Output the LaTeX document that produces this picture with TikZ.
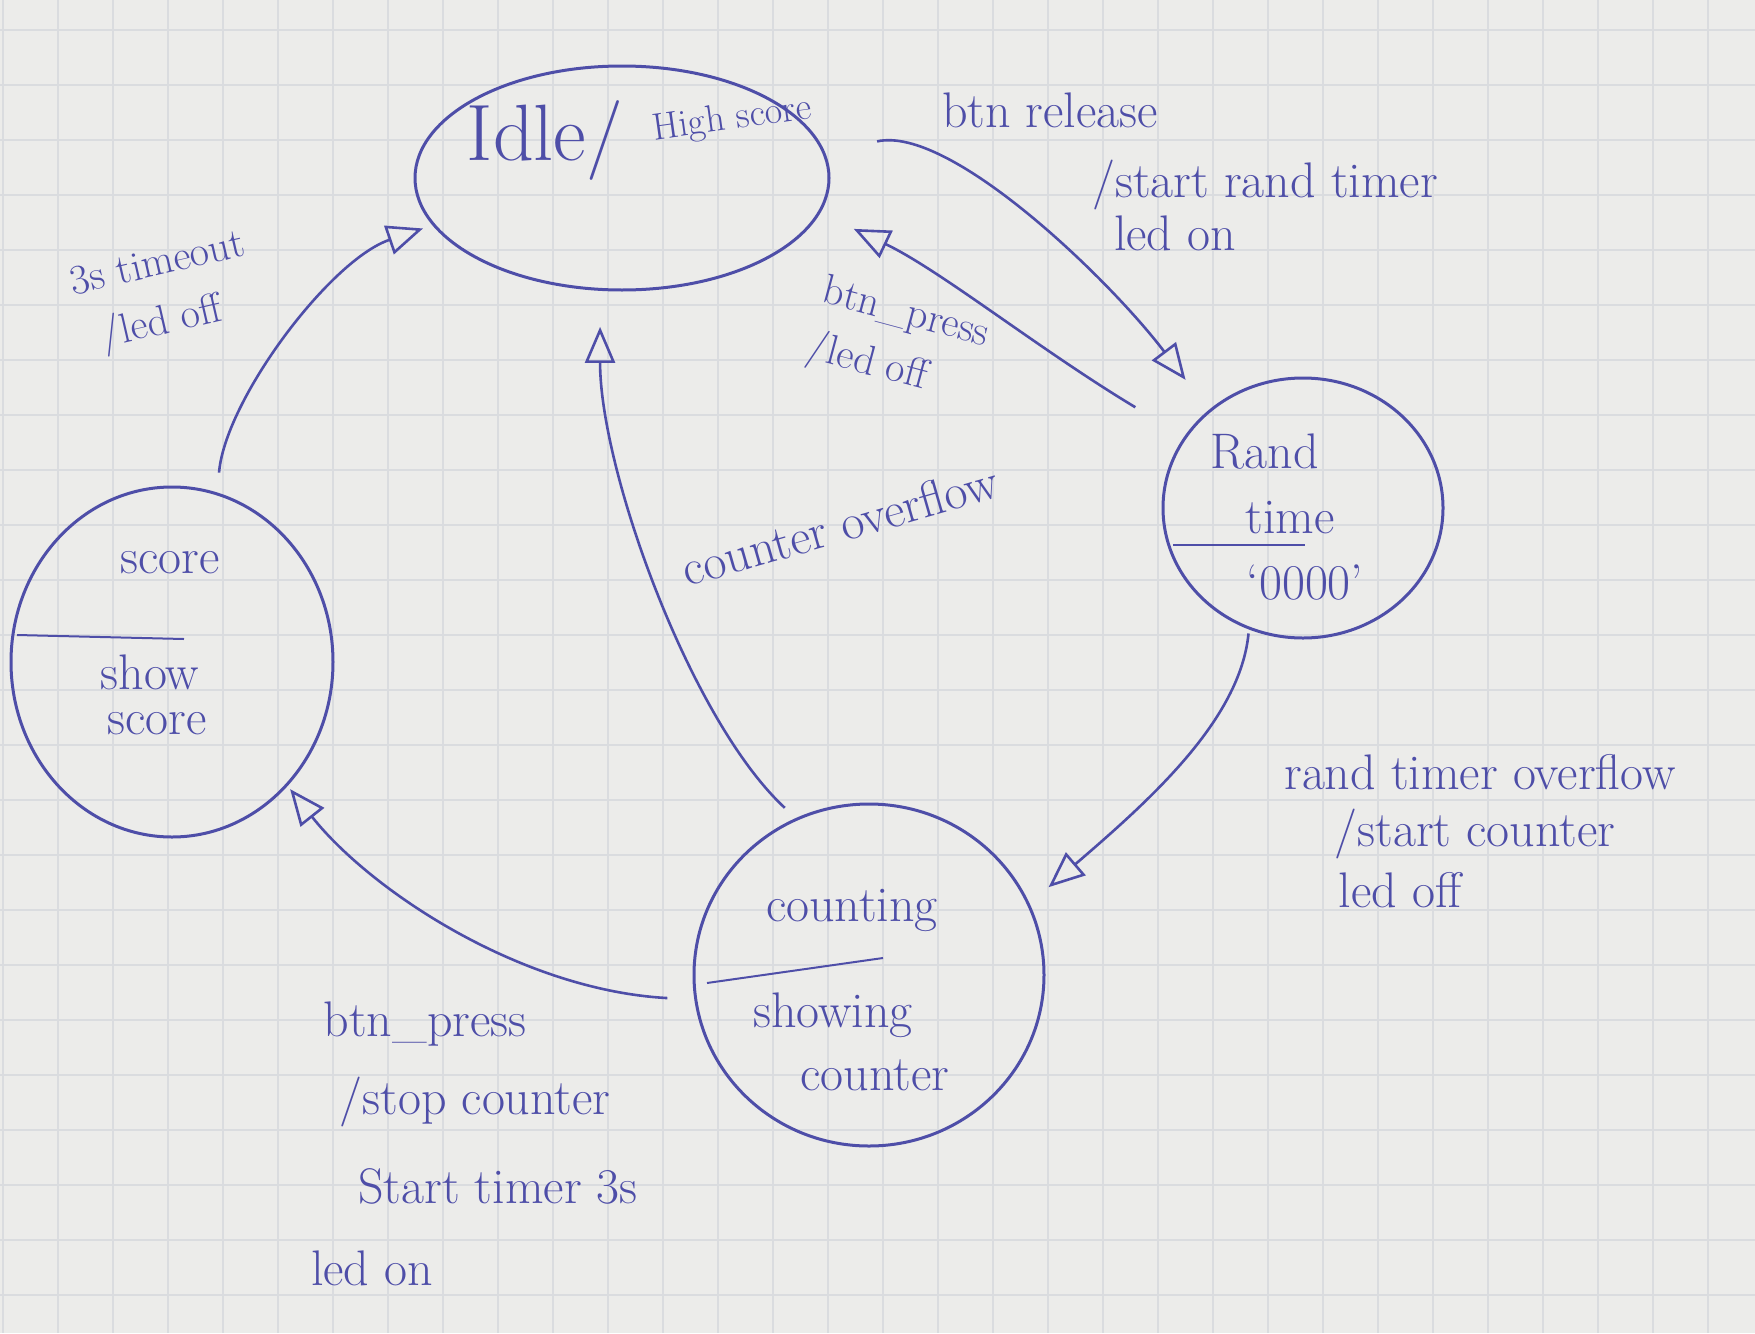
\documentclass[tikz,border=0pt]{standalone}
\usepackage{fontspec}
\usetikzlibrary{shapes.geometric,arrows.meta,calc}
\definecolor{inkc}{RGB}{78,78,168}
\definecolor{paper}{RGB}{236,236,234}
\definecolor{gridc}{RGB}{218,220,223}
\begin{document}
\begin{tikzpicture}[x=1pt,y=-1pt,
  state/.style={ellipse, draw=inkc, line width=3pt, inner sep=0pt},
  arr/.style={draw=inkc, line width=2.6pt, -{Triangle[open,length=36pt,width=30pt]}},
  divider/.style={draw=inkc, line width=2pt},
  lbl/.style={text=inkc, inner sep=0pt, font=\fontsize{50}{60}\selectfont},
  small/.style={text=inkc, inner sep=0pt, align=left, font=\fontsize{42}{58}\selectfont},
  gridline/.style={draw=gridc, line width=1.2pt}]

\fill[paper] (0,0) rectangle (1755,1333);
\useasboundingbox (0,0) rectangle (1755,1333);
\foreach \gx in {3,58,...,1755} \draw[gridline] (\gx,0) -- (\gx,1333);
\foreach \gy in {30,85,...,1333} \draw[gridline] (0,\gy) -- (1755,\gy);

% states
\node[state, minimum width=414pt, minimum height=224pt] (idle) at (622,178) {};
\node[state, minimum width=280pt, minimum height=260pt] (rand) at (1303,508) {};
\node[state, minimum width=350pt, minimum height=342pt] (counting) at (869,975) {};
\node[state, minimum width=322pt, minimum height=350pt] (score) at (172,662) {};

% state texts
\node[lbl, font=\fontsize{80}{90}\selectfont] (idlet) at (545,140) {Idle/};
\node[lbl, font=\fontsize{38}{44}\selectfont, rotate=8] (hst) at (732,120) {High score};

\node[lbl] (randt) at (1265,452) {Rand};
\node[lbl] (timet) at (1290,518) {time};
\node[lbl] (zerot) at (1305,583) {`0000'};
\draw[divider] ($(rand.center)+(-130,37)$) -- ($(rand.center)+(2,37)$);

\node[lbl] (scoret) at (170,563) {score};
\node[lbl] (showt) at (150,672) {show};
\node[lbl] (score2t) at (157,724) {score};
\draw[divider] ($(score.center)+(-155,-27)$) -- ($(score.center)+(12,-23)$);

\node[lbl] (countt) at (852,910) {counting};
\node[lbl] (showingt) at (833,1015) {showing};
\node[lbl] (countert) at (875,1075) {counter};
\draw[divider] ($(counting.center)+(-162,8)$) -- ($(counting.center)+(14,-17)$);

% transitions
\draw[arr, shorten <=53pt, shorten >=38pt] (idle.7) .. controls (950,125) and (1110,280) .. (rand.134);
\draw[arr, shorten <=57pt, shorten >=37pt] (rand.149) .. controls (1040,350) and (940,270) .. (idle.-10);
\draw[arr, shorten <=4pt, shorten >=25pt] (rand.-114) .. controls (1240,720) and (1150,800) .. (counting.24);
\draw[arr, shorten <=27pt, shorten >=4pt] (counting.188) .. controls (520,990) and (370,890) .. (score.-47);
\draw[arr, shorten <=15pt, shorten >=36pt] (counting.115) .. controls (690,720) and (600,470) .. (idle.-101);
\draw[arr, shorten <=20pt, shorten >=10pt] (score.75) .. controls (225,400) and (330,260) .. (idle.194);

% transition labels
\node[lbl] (l1a) at (1050,110) {btn release};
\node[lbl] (l1b) at (1265,185) {/start rand timer};
\node[lbl] (l1c) at (1175,233) {led on};

\node[small, rotate=-15] (l2) at (898,343) {btn\_press\\/led off};

\node[lbl] (l3a) at (1480,772) {rand timer overflow};
\node[lbl] (l3b) at (1475,834) {/start counter};
\node[lbl] (l3c) at (1400,890) {led off};

\node[lbl] (l4a) at (425,1024) {btn\_press};
\node[lbl] (l4b) at (475,1102) {/stop counter};
\node[lbl] (l4c) at (498,1186) {Start timer 3s};
\node[lbl] (l4d) at (372,1268) {led on};

\node[lbl, rotate=16] (l5) at (840,525) {counter overflow};

\node[small, rotate=13] (l6) at (165,295) {3s timeout\\\hspace*{18pt}/led off};
\end{tikzpicture}
\end{document}
